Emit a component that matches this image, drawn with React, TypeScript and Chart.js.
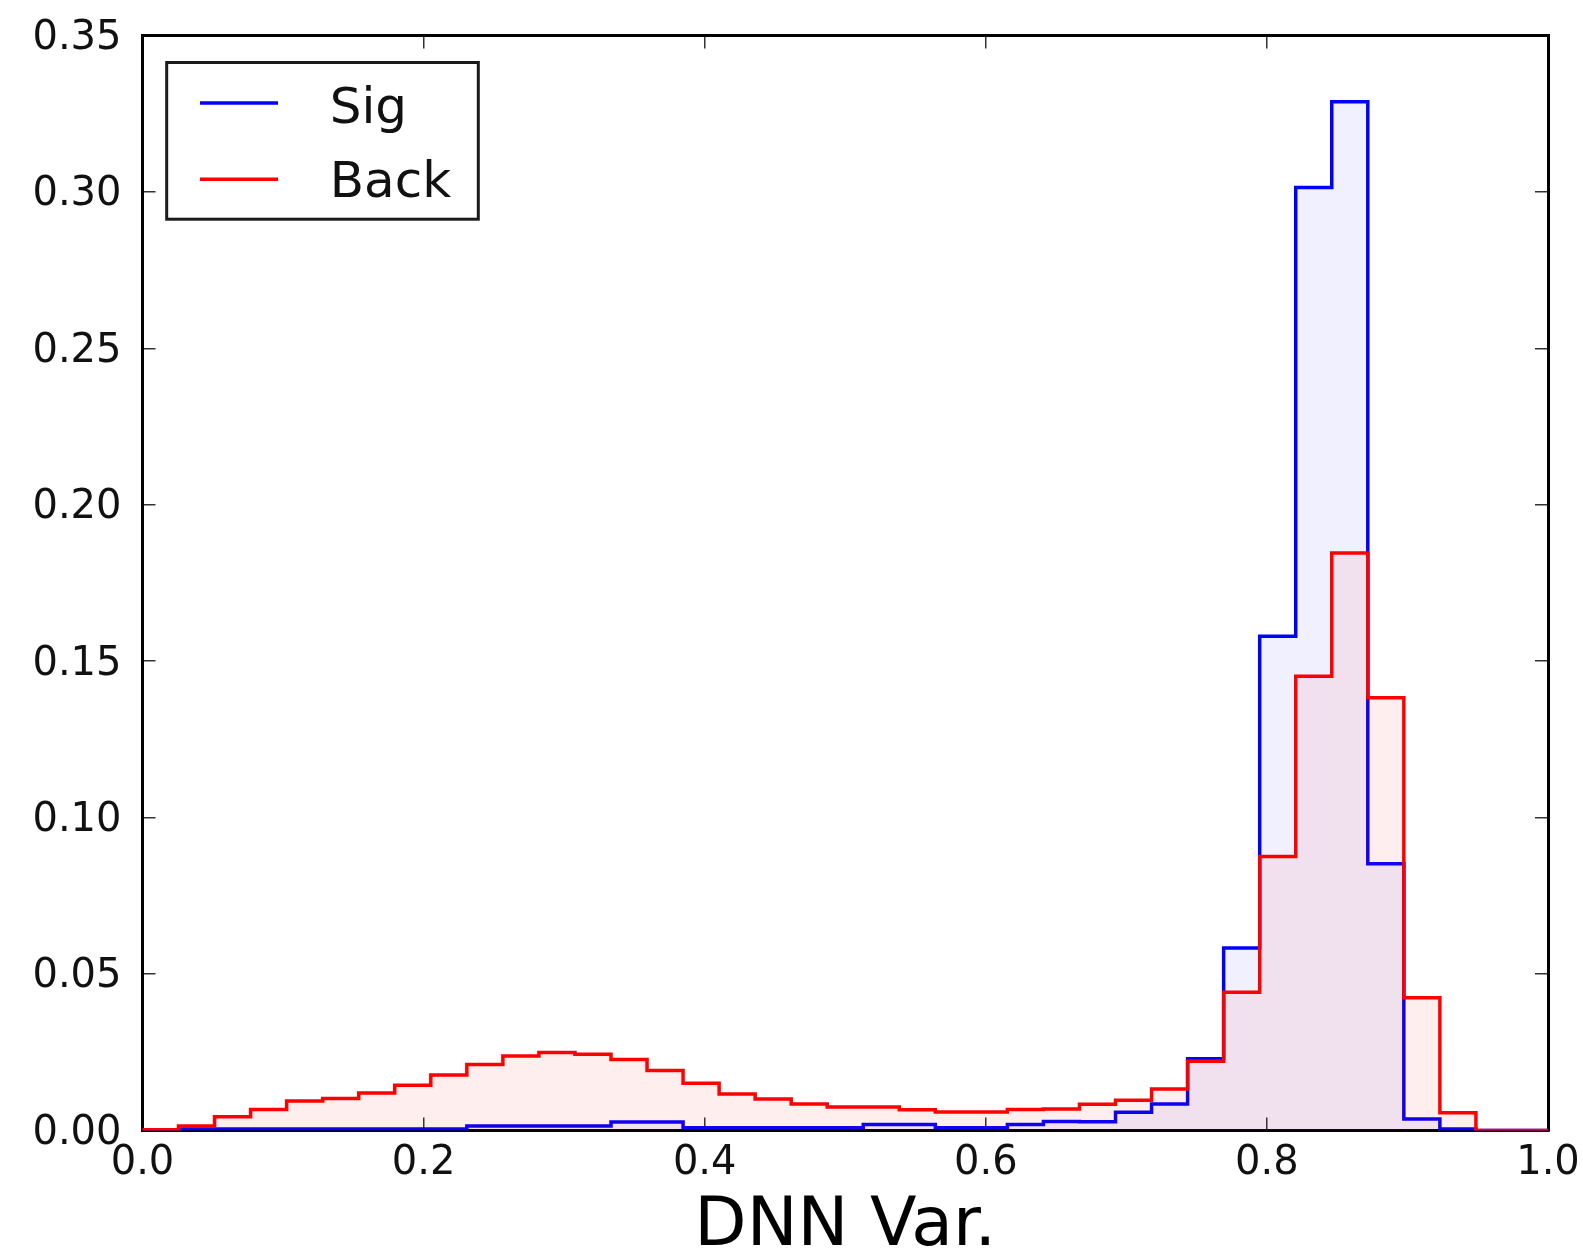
import React, { useEffect, useRef } from 'react';
import { Chart, registerables } from 'chart.js';

Chart.register(...registerables);

// ---- Data ----
const BIN_COUNT = 39;
const X_MIN = 0;
const X_MAX = 1;

const SERIES_LABELS = ['Sig', 'Back'];

const SIG_VALUES = [
  0, 0.0005, 0.0005, 0.0005, 0.0005, 0.0005, 0.0005, 0.0005, 0.0005, 0.0014,
  0.0014, 0.0014, 0.0014, 0.0027, 0.0027, 0.0009, 0.0009, 0.0009, 0.0009, 0.0009,
  0.0019, 0.0019, 0.0009, 0.0009, 0.0019, 0.0029, 0.0028, 0.0058, 0.0085, 0.0229,
  0.0583, 0.158, 0.3014, 0.3288, 0.0853, 0.0037, 0.0005, 0, 0,
];

const BACK_VALUES = [
  0.0002, 0.0014, 0.0044, 0.0067, 0.0094, 0.0102, 0.012, 0.0145, 0.0177, 0.0211,
  0.0238, 0.0249, 0.0244, 0.0227, 0.0192, 0.0151, 0.0117, 0.0101, 0.0085, 0.0075,
  0.0075, 0.0066, 0.0059, 0.0059, 0.0067, 0.0069, 0.0084, 0.0097, 0.0133, 0.0221,
  0.0442, 0.0876, 0.1452, 0.1846, 0.1383, 0.0424, 0.0057, 0, 0,
];

const X_TICKS = [0, 0.2, 0.4, 0.6, 0.8, 1.0];
const Y_TICKS = [0, 0.05, 0.1, 0.15, 0.2, 0.25, 0.3, 0.35];
const X_TITLE = 'DNN Var.';

const SERIES_COLORS = ['#0000ff', '#ff0000'];
const SERIES_FILLS = ['rgba(0,0,255,0.06)', 'rgba(255,0,0,0.065)'];

// ---- helpers ----
function stepPoints(values: number[]) {
  const w = (X_MAX - X_MIN) / BIN_COUNT;
  const pts: { x: number; y: number }[] = [{ x: X_MIN, y: 0 }];
  values.forEach((v, i) => pts.push({ x: X_MIN + i * w, y: v }));
  pts.push({ x: X_MAX, y: values[values.length - 1] });
  pts.push({ x: X_MAX, y: 0 });
  return pts;
}

const FONT = 'DejaVu Sans';

const boxLegend = {
  id: 'boxLegend',
  afterDraw(chart: any) {
    const { ctx, chartArea } = chart;
    const L = chartArea.left + 24.2;
    const T = chartArea.top + 27;
    const W = 311.6;
    const H = 156.7;
    ctx.save();
    ctx.fillStyle = '#ffffff';
    ctx.fillRect(L, T, W, H);
    ctx.strokeStyle = '#1a1a1a';
    ctx.lineWidth = 3;
    ctx.strokeRect(L, T, W, H);
    chart.data.datasets.forEach((ds: any, i: number) => {
      const ly = T + 40.4 + i * 76.3;
      ctx.strokeStyle = ds.borderColor;
      ctx.lineWidth = 3.5;
      ctx.beginPath();
      ctx.moveTo(L + 33.3, ly);
      ctx.lineTo(L + 111.3, ly);
      ctx.stroke();
      ctx.fillStyle = '#111';
      ctx.font = `50px "${FONT}"`;
      ctx.textAlign = 'left';
      ctx.textBaseline = 'alphabetic';
      ctx.fillText(ds.label, L + 163, T + 60 + i * 74.4);
    });
    ctx.restore();
  },
};

const gridOpts = {
  drawOnChartArea: false,
  drawTicks: true,
  tickLength: -13,
  color: '#333',
  lineWidth: 1.5,
};
const borderOpts = { display: true, color: '#000', width: 3 };

function clearPad(s: any) {
  s.paddingTop = 0;
  s.paddingBottom = 0;
  s.paddingLeft = 0;
  s.paddingRight = 0;
}

export default function App() {
  const canvasRef = useRef<HTMLCanvasElement | null>(null);

  useEffect(() => {
    if (!canvasRef.current) return;
    const chart = new Chart(canvasRef.current, {
      type: 'line',
      data: {
        datasets: [
          {
            label: SERIES_LABELS[0],
            data: stepPoints(SIG_VALUES),
            borderColor: SERIES_COLORS[0],
            backgroundColor: SERIES_FILLS[0],
            fill: 'origin',
            stepped: 'before',
            borderWidth: 3.5,
            pointRadius: 0,
            order: 1,
          },
          {
            label: SERIES_LABELS[1],
            data: stepPoints(BACK_VALUES),
            borderColor: SERIES_COLORS[1],
            backgroundColor: SERIES_FILLS[1],
            fill: 'origin',
            stepped: 'before',
            borderWidth: 3.5,
            pointRadius: 0,
            order: 0,
          },
        ],
      },
      options: {
        responsive: false,
        animation: false,
        devicePixelRatio: 1,
        layout: { padding: 0 },
        plugins: {
          legend: { display: false },
          tooltip: { enabled: false },
        },
        scales: {
          x: {
            type: 'linear',
            position: 'bottom',
            min: X_MIN,
            max: X_MAX,
            z: 1,
            afterBuildTicks: (s: any) => {
              s.ticks = X_TICKS.map((v) => ({ value: v }));
            },
            afterFit: (s: any) => {
              s.height = 122.5;
              clearPad(s);
            },
            grid: gridOpts,
            border: borderOpts,
            ticks: {
              autoSkip: false,
              maxRotation: 0,
              padding: 22,
              color: '#111',
              font: { family: FONT, size: 40 },
              callback: (v: any) => Number(v).toFixed(1),
            },
            title: {
              display: true,
              text: X_TITLE,
              color: '#000',
              font: { family: FONT, size: 68, lineHeight: 1 },
              padding: { top: 0, bottom: -8 },
            },
          },
          x2: {
            type: 'linear',
            position: 'top',
            min: X_MIN,
            max: X_MAX,
            z: 1,
            afterBuildTicks: (s: any) => {
              s.ticks = X_TICKS.map((v) => ({ value: v }));
            },
            afterFit: (s: any) => {
              s.height = 35.5;
              clearPad(s);
            },
            grid: gridOpts,
            border: borderOpts,
            ticks: { display: false },
          },
          y: {
            type: 'linear',
            position: 'left',
            min: 0,
            max: 0.35,
            z: 1,
            afterBuildTicks: (s: any) => {
              s.ticks = Y_TICKS.map((v) => ({ value: v }));
            },
            afterFit: (s: any) => {
              s.width = 142.5;
              clearPad(s);
            },
            grid: gridOpts,
            border: borderOpts,
            ticks: {
              autoSkip: false,
              padding: 34,
              labelOffset: 3,
              color: '#111',
              font: { family: FONT, size: 40 },
              callback: (v: any) => Number(v).toFixed(2),
            },
          },
          y2: {
            type: 'linear',
            position: 'right',
            min: 0,
            max: 0.35,
            z: 1,
            afterBuildTicks: (s: any) => {
              s.ticks = Y_TICKS.map((v) => ({ value: v }));
            },
            afterFit: (s: any) => {
              s.width = 35;
              clearPad(s);
            },
            grid: gridOpts,
            border: borderOpts,
            ticks: { display: false },
          },
        },
      } as any,
      plugins: [boxLegend],
    });
    return () => chart.destroy();
  }, []);

  return (
    <div style={{ position: 'absolute', left: 0, top: 0, width: 1583, height: 1253, background: '#fff' }}>
      <canvas ref={canvasRef} width={1583} height={1253} />
    </div>
  );
}
